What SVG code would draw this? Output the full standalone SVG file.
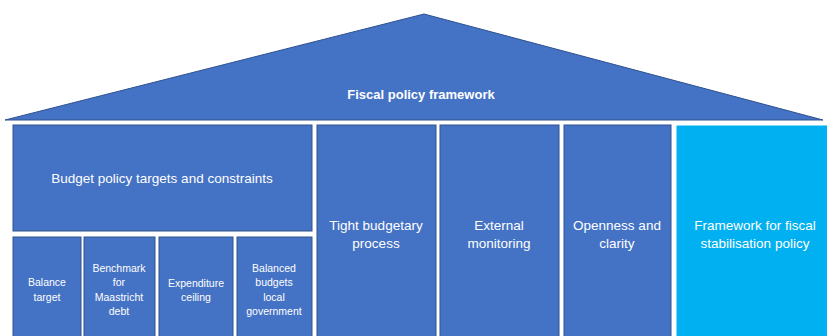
<svg xmlns="http://www.w3.org/2000/svg" width="827" height="336" viewBox="0 0 827 336">
<style>
.b{fill:#4472C4;stroke:#2F528F;stroke-width:1}
.c{fill:#00B0F0;stroke:#ffffff;stroke-width:1}
text{font-family:"Liberation Sans",Arial,sans-serif;fill:#ffffff;text-anchor:middle}
.t{font-size:13.5px}
.s{font-size:10.5px}
.h{font-size:13px;font-weight:bold}
</style>
<rect width="827" height="336" fill="#ffffff"/>
<g id="roof"><polygon class="b" points="424,14 823,120 5,120"/><text class="h" x="421" y="99">Fiscal policy framework</text></g>
<g id="budget"><rect class="b" x="13" y="125" width="299" height="106"/><text class="t" x="162" y="183">Budget policy targets and constraints</text></g>
<g id="balance"><rect class="b" x="13" y="237" width="68" height="105"/><text class="s" x="47" y="286">Balance</text><text class="s" x="47" y="301">target</text></g>
<g id="benchmark"><rect class="b" x="84" y="237" width="71" height="105"/><text class="s" x="119" y="272">Benchmark</text><text class="s" x="119" y="286">for</text><text class="s" x="119" y="301">Maastricht</text><text class="s" x="119" y="315">debt</text></g>
<g id="expenditure"><rect class="b" x="159" y="237" width="74" height="105"/><text class="s" x="196" y="287">Expenditure</text><text class="s" x="196" y="301">ceiling</text></g>
<g id="balanced"><rect class="b" x="237" y="237" width="75" height="105"/><text class="s" x="274" y="272">Balanced</text><text class="s" x="274" y="286">budgets</text><text class="s" x="274" y="301">local</text><text class="s" x="274" y="315">government</text></g>
<g id="tight"><rect class="b" x="317" y="125" width="119" height="217"/><text class="t" x="376" y="230">Tight budgetary</text><text class="t" x="376" y="248">process</text></g>
<g id="external"><rect class="b" x="440" y="125" width="119" height="217"/><text class="t" x="499" y="230">External</text><text class="t" x="499" y="248">monitoring</text></g>
<g id="openness"><rect class="b" x="564" y="125" width="107" height="217"/><text class="t" x="617" y="230">Openness and</text><text class="t" x="617" y="248">clarity</text></g>
<g id="stabilisation"><rect class="c" x="676" y="125" width="160" height="217"/><text class="t" x="755" y="230">Framework for fiscal</text><text class="t" x="755" y="248">stabilisation policy</text></g>
<g id="connectors"></g>
</svg>
